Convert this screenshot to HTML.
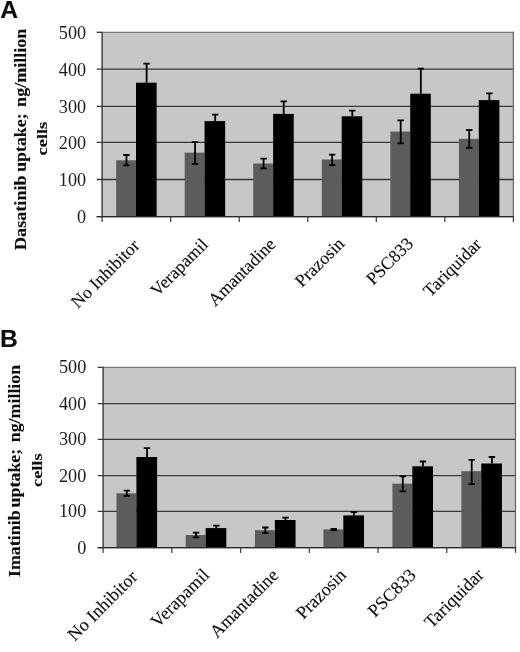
<!DOCTYPE html>
<html><head><meta charset="utf-8"><title>Figure</title>
<style>
html,body{margin:0;padding:0;background:#fff;}
svg{display:block;will-change:transform;}
text{fill:#0d0d0d;stroke:#0d0d0d;stroke-width:0.12px;}
.num{font-family:"Liberation Serif",serif;font-size:18.2px;text-anchor:end;fill:#1c1c1c;stroke:none;}
.cat{font-family:"Liberation Serif",serif;text-anchor:end;}
.ttl{font-family:"Liberation Serif",serif;font-weight:bold;font-size:17.5px;text-anchor:start;}
.pan{font-family:"Liberation Sans",sans-serif;font-weight:bold;font-size:24.7px;}
</style></head>
<body>
<svg width="520" height="652" viewBox="0 0 520 652">
<rect width="520" height="652" fill="#fff"/>
<g id="chartA">
<rect x="102.1" y="32.3" width="411.30" height="184.30" fill="#c7c7c7"/>
<line x1="96.70" y1="32.30" x2="102.1" y2="32.30" stroke="#383838" stroke-width="1.3"/>
<line x1="96.70" y1="69.15" x2="513.4" y2="69.15" stroke="#383838" stroke-width="1.3"/>
<line x1="96.70" y1="106.30" x2="513.4" y2="106.30" stroke="#383838" stroke-width="1.3"/>
<line x1="96.70" y1="142.40" x2="513.4" y2="142.40" stroke="#383838" stroke-width="1.3"/>
<line x1="96.70" y1="179.50" x2="513.4" y2="179.50" stroke="#383838" stroke-width="1.3"/>
<line x1="96.70" y1="216.60" x2="513.4" y2="216.60" stroke="#383838" stroke-width="1.3"/>
<rect x="116.15" y="160.30" width="19.87" height="56.30" fill="#5c5c5c"/>
<rect x="136.02" y="82.70" width="20.61" height="133.90" fill="#000"/>
<path d="M126.49 155.00V165.30M123.29 155.00h6.4M123.29 165.30h6.4" stroke="#000" stroke-width="1.8" fill="none"/>
<path d="M146.63 63.60V82.70M143.43 63.60h6.4" stroke="#000" stroke-width="1.8" fill="none"/>
<rect x="184.70" y="152.60" width="19.87" height="64.00" fill="#5c5c5c"/>
<rect x="204.57" y="121.10" width="20.61" height="95.50" fill="#000"/>
<path d="M195.04 142.10V163.90M191.84 142.10h6.4M191.84 163.90h6.4" stroke="#000" stroke-width="1.8" fill="none"/>
<path d="M215.18 114.70V121.10M211.98 114.70h6.4" stroke="#000" stroke-width="1.8" fill="none"/>
<rect x="253.25" y="163.50" width="19.87" height="53.10" fill="#5c5c5c"/>
<rect x="273.12" y="113.90" width="20.61" height="102.70" fill="#000"/>
<path d="M263.59 158.70V168.40M260.39 158.70h6.4M260.39 168.40h6.4" stroke="#000" stroke-width="1.8" fill="none"/>
<path d="M283.73 101.30V113.90M280.53 101.30h6.4" stroke="#000" stroke-width="1.8" fill="none"/>
<rect x="321.80" y="159.50" width="19.87" height="57.10" fill="#5c5c5c"/>
<rect x="341.67" y="116.30" width="20.61" height="100.30" fill="#000"/>
<path d="M332.14 154.60V165.10M328.94 154.60h6.4M328.94 165.10h6.4" stroke="#000" stroke-width="1.8" fill="none"/>
<path d="M352.28 110.60V116.30M349.08 110.60h6.4" stroke="#000" stroke-width="1.8" fill="none"/>
<rect x="390.35" y="131.60" width="19.87" height="85.00" fill="#5c5c5c"/>
<rect x="410.22" y="93.70" width="20.61" height="122.90" fill="#000"/>
<path d="M400.69 120.30V143.30M397.49 120.30h6.4M397.49 143.30h6.4" stroke="#000" stroke-width="1.8" fill="none"/>
<path d="M420.83 68.60V93.70M417.63 68.60h6.4" stroke="#000" stroke-width="1.8" fill="none"/>
<rect x="458.90" y="138.90" width="19.87" height="77.70" fill="#5c5c5c"/>
<rect x="478.77" y="100.10" width="20.61" height="116.50" fill="#000"/>
<path d="M469.24 130.00V147.80M466.04 130.00h6.4M466.04 147.80h6.4" stroke="#000" stroke-width="1.8" fill="none"/>
<path d="M489.38 93.30V100.10M486.18 93.30h6.4" stroke="#000" stroke-width="1.8" fill="none"/>
<line x1="102.1" y1="32.3" x2="513.4" y2="32.3" stroke="#7a7a7a" stroke-width="1.2"/>
<line x1="513.4" y1="31.699999999999996" x2="513.4" y2="216.6" stroke="#6a6a6a" stroke-width="1.3"/>
<line x1="102.1" y1="31.699999999999996" x2="102.1" y2="217.2" stroke="#383838" stroke-width="1.4"/>
<line x1="96.70" y1="216.6" x2="514.0" y2="216.6" stroke="#2a2a2a" stroke-width="1.4"/>
<line x1="102.10" y1="216.6" x2="102.10" y2="221.9" stroke="#383838" stroke-width="1.2"/>
<line x1="170.65" y1="216.6" x2="170.65" y2="221.9" stroke="#383838" stroke-width="1.2"/>
<line x1="239.20" y1="216.6" x2="239.20" y2="221.9" stroke="#383838" stroke-width="1.2"/>
<line x1="307.75" y1="216.6" x2="307.75" y2="221.9" stroke="#383838" stroke-width="1.2"/>
<line x1="376.30" y1="216.6" x2="376.30" y2="221.9" stroke="#383838" stroke-width="1.2"/>
<line x1="444.85" y1="216.6" x2="444.85" y2="221.9" stroke="#383838" stroke-width="1.2"/>
<line x1="513.40" y1="216.6" x2="513.40" y2="221.9" stroke="#383838" stroke-width="1.2"/>
<text class="num" transform="translate(86.10,38.80) scale(1,1.07)">500</text>
<text class="num" transform="translate(86.10,75.65) scale(1,1.07)">400</text>
<text class="num" transform="translate(86.10,112.80) scale(1,1.07)">300</text>
<text class="num" transform="translate(86.10,148.90) scale(1,1.07)">200</text>
<text class="num" transform="translate(86.10,186.00) scale(1,1.07)">100</text>
<text class="num" transform="translate(86.10,223.10) scale(1,1.07)">0</text>
<text class="cat" font-size="17.8" transform="translate(140.57,246.50) rotate(-45)">No Inhibitor</text>
<text class="cat" font-size="17.8" transform="translate(209.12,245.50) rotate(-45)">Verapamil</text>
<text class="cat" font-size="17.8" transform="translate(276.58,245.50) rotate(-45)">Amantadine</text>
<text class="cat" font-size="17.8" transform="translate(345.42,244.80) rotate(-45)">Prazosin</text>
<text class="cat" font-size="17.8" transform="translate(414.37,244.60) rotate(-45)">PSC833</text>
<text class="cat" font-size="17.8" transform="translate(482.52,245.50) rotate(-45)">Tariquidar</text>
<text class="ttl" transform="translate(25.5,0) rotate(-90)"><tspan x="-250.0" textLength="74.6" lengthAdjust="spacingAndGlyphs">Dasatinib</tspan> <tspan x="-171.8" textLength="58.4" lengthAdjust="spacingAndGlyphs">uptake;</tspan> <tspan x="-106.9" textLength="78.2" lengthAdjust="spacingAndGlyphs">ng/million</tspan></text>
<text class="ttl" style="font-size:14.6px;text-anchor:middle" transform="translate(47.0,138.6) rotate(-90)" textLength="33.6" lengthAdjust="spacingAndGlyphs">cells</text>
<text class="pan" x="0.3" y="17.9">A</text>
</g>
<g id="chartB">
<rect x="103.1" y="367.4" width="412.40" height="180.20" fill="#c7c7c7"/>
<line x1="97.70" y1="367.40" x2="103.1" y2="367.40" stroke="#383838" stroke-width="1.3"/>
<line x1="97.70" y1="403.60" x2="515.5" y2="403.60" stroke="#383838" stroke-width="1.3"/>
<line x1="97.70" y1="439.40" x2="515.5" y2="439.40" stroke="#383838" stroke-width="1.3"/>
<line x1="97.70" y1="475.60" x2="515.5" y2="475.60" stroke="#383838" stroke-width="1.3"/>
<line x1="97.70" y1="511.40" x2="515.5" y2="511.40" stroke="#383838" stroke-width="1.3"/>
<line x1="97.70" y1="547.60" x2="515.5" y2="547.60" stroke="#383838" stroke-width="1.3"/>
<rect x="116.49" y="493.30" width="19.92" height="54.30" fill="#5c5c5c"/>
<rect x="136.41" y="457.00" width="20.67" height="90.60" fill="#000"/>
<path d="M126.85 490.60V495.80M123.65 490.60h6.4M123.65 495.80h6.4" stroke="#000" stroke-width="1.8" fill="none"/>
<path d="M147.04 448.20V457.00M143.84 448.20h6.4" stroke="#000" stroke-width="1.8" fill="none"/>
<rect x="185.72" y="535.00" width="19.92" height="12.60" fill="#5c5c5c"/>
<rect x="205.64" y="528.10" width="20.67" height="19.50" fill="#000"/>
<path d="M196.08 532.60V537.40M192.88 532.60h6.4M192.88 537.40h6.4" stroke="#000" stroke-width="1.8" fill="none"/>
<path d="M216.28 525.70V528.10M213.08 525.70h6.4" stroke="#000" stroke-width="1.8" fill="none"/>
<rect x="254.96" y="530.20" width="19.92" height="17.40" fill="#5c5c5c"/>
<rect x="274.88" y="520.00" width="20.67" height="27.60" fill="#000"/>
<path d="M265.32 527.50V533.20M262.12 527.50h6.4M262.12 533.20h6.4" stroke="#000" stroke-width="1.8" fill="none"/>
<path d="M285.51 517.60V520.00M282.31 517.60h6.4" stroke="#000" stroke-width="1.8" fill="none"/>
<rect x="323.39" y="529.40" width="19.92" height="18.20" fill="#5c5c5c"/>
<rect x="343.31" y="515.40" width="20.67" height="32.20" fill="#000"/>
<path d="M333.75 529.00V530.00M330.55 529.00h6.4M330.55 530.00h6.4" stroke="#000" stroke-width="1.8" fill="none"/>
<path d="M353.94 512.20V515.40M350.74 512.20h6.4" stroke="#000" stroke-width="1.8" fill="none"/>
<rect x="392.42" y="483.70" width="19.92" height="63.90" fill="#5c5c5c"/>
<rect x="412.34" y="466.30" width="20.67" height="81.30" fill="#000"/>
<path d="M402.78 476.40V491.40M399.58 476.40h6.4M399.58 491.40h6.4" stroke="#000" stroke-width="1.8" fill="none"/>
<path d="M422.98 461.50V466.30M419.78 461.50h6.4" stroke="#000" stroke-width="1.8" fill="none"/>
<rect x="461.36" y="471.20" width="19.92" height="76.40" fill="#5c5c5c"/>
<rect x="481.28" y="463.50" width="20.67" height="84.10" fill="#000"/>
<path d="M471.72 459.90V484.10M468.52 459.90h6.4M468.52 484.10h6.4" stroke="#000" stroke-width="1.8" fill="none"/>
<path d="M491.91 457.00V463.50M488.71 457.00h6.4" stroke="#000" stroke-width="1.8" fill="none"/>
<line x1="103.1" y1="367.4" x2="515.5" y2="367.4" stroke="#7a7a7a" stroke-width="1.2"/>
<line x1="515.5" y1="366.79999999999995" x2="515.5" y2="547.6" stroke="#6a6a6a" stroke-width="1.3"/>
<line x1="103.1" y1="366.79999999999995" x2="103.1" y2="548.2" stroke="#383838" stroke-width="1.4"/>
<line x1="97.70" y1="547.6" x2="516.1" y2="547.6" stroke="#2a2a2a" stroke-width="1.4"/>
<line x1="103.10" y1="547.6" x2="103.10" y2="552.9" stroke="#383838" stroke-width="1.2"/>
<line x1="171.83" y1="547.6" x2="171.83" y2="552.9" stroke="#383838" stroke-width="1.2"/>
<line x1="240.57" y1="547.6" x2="240.57" y2="552.9" stroke="#383838" stroke-width="1.2"/>
<line x1="309.30" y1="547.6" x2="309.30" y2="552.9" stroke="#383838" stroke-width="1.2"/>
<line x1="378.03" y1="547.6" x2="378.03" y2="552.9" stroke="#383838" stroke-width="1.2"/>
<line x1="446.77" y1="547.6" x2="446.77" y2="552.9" stroke="#383838" stroke-width="1.2"/>
<line x1="515.50" y1="547.6" x2="515.50" y2="552.9" stroke="#383838" stroke-width="1.2"/>
<text class="num" transform="translate(86.30,373.40) scale(1,0.985)">500</text>
<text class="num" transform="translate(86.30,409.60) scale(1,0.985)">400</text>
<text class="num" transform="translate(86.30,445.40) scale(1,0.985)">300</text>
<text class="num" transform="translate(86.30,481.60) scale(1,0.985)">200</text>
<text class="num" transform="translate(86.30,517.40) scale(1,0.985)">100</text>
<text class="num" transform="translate(86.30,553.60) scale(1,0.985)">0</text>
<text class="cat" font-size="18.1" transform="translate(138.47,578.10) rotate(-45)">No Inhibitor</text>
<text class="cat" font-size="18.1" transform="translate(210.40,576.00) rotate(-45)">Verapamil</text>
<text class="cat" font-size="18.1" transform="translate(279.43,576.30) rotate(-45)">Amantadine</text>
<text class="cat" font-size="18.1" transform="translate(347.27,576.00) rotate(-45)">Prazosin</text>
<text class="cat" font-size="18.1" transform="translate(417.00,576.00) rotate(-45)">PSC833</text>
<text class="cat" font-size="18.1" transform="translate(484.73,576.00) rotate(-45)">Tariquidar</text>
<text class="ttl" transform="translate(20.3,0) rotate(-90)"><tspan x="-577.1" textLength="66.7" lengthAdjust="spacingAndGlyphs">Imatinib</tspan> <tspan x="-507.4" textLength="58.6" lengthAdjust="spacingAndGlyphs">uptake;</tspan> <tspan x="-442.3" textLength="77.5" lengthAdjust="spacingAndGlyphs">ng/million</tspan></text>
<text class="ttl" style="font-size:14.6px;text-anchor:middle" transform="translate(41.7,470.2) rotate(-90)" textLength="33.5" lengthAdjust="spacingAndGlyphs">cells</text>
<text class="pan" x="-0.1" y="346.7">B</text>
</g>
</svg>
</body></html>
